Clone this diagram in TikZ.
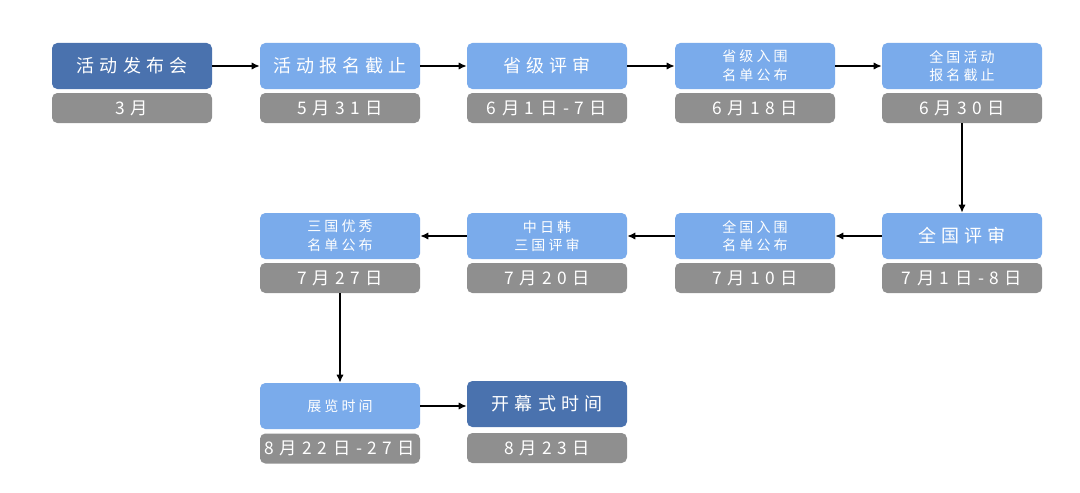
\documentclass[tikz,border=0pt]{standalone}
\usepackage{fontspec}
\setmainfont{Noto Sans CJK SC}
\newfontfamily\bigf[LetterSpace=28]{Noto Sans CJK SC}
\newfontfamily\smallf[LetterSpace=22]{Noto Sans CJK SC}
\newfontfamily\datef[LetterSpace=32]{Noto Sans CJK SC}
\usetikzlibrary{arrows.meta}
\definecolor{db}{HTML}{4A72AE}
\definecolor{lb}{HTML}{7AABEB}
\definecolor{gr}{HTML}{8F8F8F}
\begin{document}
\begin{tikzpicture}[x=0.75pt,y=-0.75pt,
  box/.style={rectangle,rounded corners=4pt,minimum width=120pt,minimum height=34.5pt,inner sep=0pt,fill=lb,text=white,align=center},
  darkbox/.style={box,fill=db},
  bigtext/.style={font=\bigf\fontsize{13.5pt}{16pt}\selectfont},
  smalltext/.style={font=\smallf\fontsize{10.5pt}{14pt}\selectfont},
  datebox/.style={rectangle,rounded corners=4pt,minimum width=120pt,minimum height=22.5pt,inner sep=0pt,fill=gr,text=white,font=\datef\fontsize{13pt}{15pt}\selectfont},
  arr/.style={line width=1.5pt,-{Latex[length=6pt,width=5.5pt]}}]
\useasboundingbox (0,0) rectangle (1080,492);
% row 1
\node[darkbox,bigtext] (a1) at (132,66) {活动发布会};
\node[datebox] (d1) at (132,108) {3月};
\node[box,bigtext] (a2) at (340,66) {活动报名截止};
\node[datebox] (d2) at (340,108) {5月31日};
\node[box,bigtext] (a3) at (547,66) {省级评审};
\node[datebox] (d3) at (547,108) {6月1日-7日};
\node[box,smalltext] (a4) at (755,66) {省级入围\\名单公布};
\node[datebox] (d4) at (755,108) {6月18日};
\node[box,smalltext] (a5) at (962,66) {全国活动\\报名截止};
\node[datebox] (d5) at (962,108) {6月30日};
% row 2
\node[box,bigtext] (b5) at (962,236) {全国评审};
\node[datebox] (e5) at (962,278) {7月1日-8日};
\node[box,smalltext] (b4) at (755,236) {全国入围\\名单公布};
\node[datebox] (e4) at (755,278) {7月10日};
\node[box,smalltext] (b3) at (547,236) {中日韩\\三国评审};
\node[datebox] (e3) at (547,278) {7月20日};
\node[box,smalltext] (b2) at (340,236) {三国优秀\\名单公布};
\node[datebox] (e2) at (340,278) {7月27日};
% row 3
\node[box,smalltext] (c2) at (340,406) {展览时间};
\node[datebox] (f2) at (340,448.5) {8月22日-27日};
\node[darkbox,bigtext] (c3) at (547,404) {开幕式时间};
\node[datebox] (f3) at (547,448) {8月23日};
% arrows
\draw[arr] (a1) -- (a2);
\draw[arr] (a2) -- (a3);
\draw[arr] (a3) -- (a4);
\draw[arr] (a4) -- (a5);
\draw[arr] (d5) -- (b5);
\draw[arr] (b5) -- (b4);
\draw[arr] (b4) -- (b3);
\draw[arr] (b3) -- (b2);
\draw[arr] (e2) -- (c2);
\draw[arr] (c2.east) -- (c2.east -| c3.west);
\end{tikzpicture}
\end{document}
